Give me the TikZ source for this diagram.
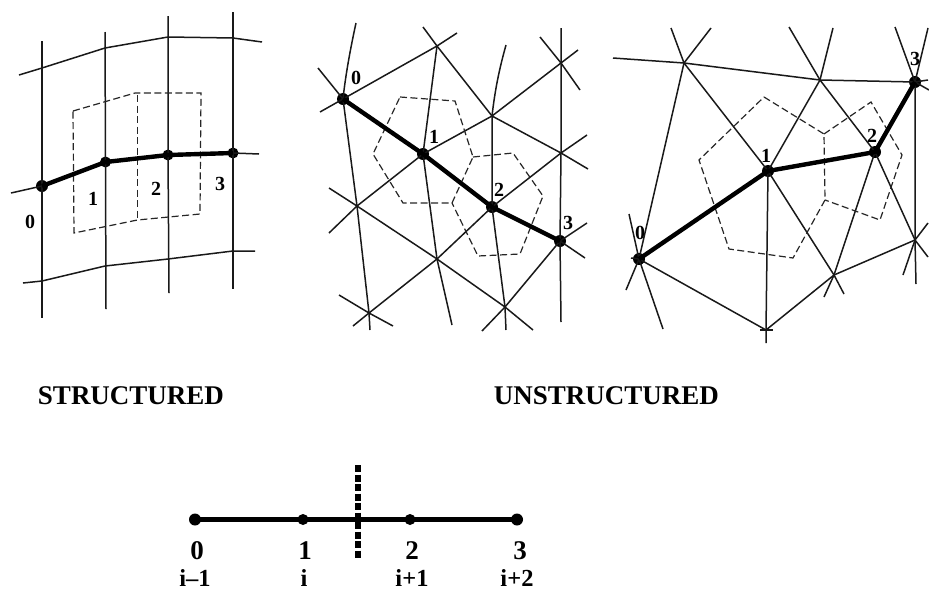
\documentclass[tikz,border=0pt]{standalone}
\usepackage{fontspec}
\setmainfont{Liberation Serif}
\tikzset{
  mesh/.style={line width=1.5pt,black!90},
  cell/.style={line width=1.2pt,black!85,dash pattern=on 7pt off 3.5pt},
  heavy/.style={line width=4.4pt,black},
  heavyaxis/.style={line width=5pt,black},
  cut/.style={line width=6.5pt,black,dash pattern=on 7pt off 2.5pt},
  dot/.style={circle,fill=black,inner sep=0pt,minimum size=#1},
  dot/.default=12pt,
  lab/.style={font=\fontsize{20}{20}\selectfont\bfseries,inner sep=0pt},
  title/.style={font=\fontsize{27}{27}\selectfont\bfseries,inner sep=0pt},
  axlab/.style={font=\fontsize{27}{27}\selectfont\bfseries,inner sep=0pt},
  axsub/.style={font=\fontsize{24.5}{24.5}\selectfont\bfseries,inner sep=0pt},
}
\begin{document}
\begin{tikzpicture}[x=1pt,y=-1pt]
\useasboundingbox (0,0) rectangle (929,592);
% ---------- structured
\foreach \n/\x/\y in {a1/42/41,a2/42/318,a3/105/32,a4/106/309,a5/168/16,a6/169/293,a7/233/12,a8/233/289,
  t0/19/75,t1/42/68,t2/105/48,t3/168/37,t4/233/38,t5/262/42,
  c0/11/193,c5/259/154,
  b0/23/283,b1/42/281,b2/105/266,b3/168/259,b4/233/251,b5/255/251,
  k1/73/111,k2/137.4/95,k3/135/93,k4/201/93,k5/200/214,k6/137.4/220,k7/74/233}
  {\coordinate (\n) at (\x,\y);}
\node[dot] (s0) at (42,186) {};
\node[dot,minimum size=11pt] (s1) at (105.5,162) {};
\node[dot,minimum size=11pt] (s2) at (168,155) {};
\node[dot,minimum size=11pt] (s3) at (233,153) {};
\draw[mesh] (a1) -- (s0.center) -- (a2);
\draw[mesh] (a3) -- (s1.center) -- (a4);
\draw[mesh] (a5) -- (s2.center) -- (a6);
\draw[mesh] (a7) -- (s3.center) -- (a8);
\draw[mesh] (t0) -- (t1) -- (t2) -- (t3) -- (t4) -- (t5);
\draw[mesh] (c0) -- (s0.center);
\draw[mesh] (s3.center) -- (c5);
\draw[mesh] (b0) -- (b1) -- (b2) -- (b3) -- (b4) -- (b5);
\draw[cell] (k1) -- (k3) -- (k4) -- (k5) -- (k6) -- (k7) -- cycle;
\draw[cell] (k2) -- (k6);
\draw[heavy] (s0.center) -- (s1.center) -- (s2.center) -- (s3.center);
\node[lab] (sl0) at (30,222) {0};
\node[lab] (sl1) at (93,199) {1};
\node[lab] (sl2) at (156,189) {2};
\node[lab] (sl3) at (220,184) {3};
% ---------- unstructured, hexagons
\foreach \n/\x/\y in {B/437/46,C/492/116,D/561/63,E/561/153,F/357/206,G/437/259,H/369/313,I/505/307,
  m1/356/23,m2/318/68,m3/320/112,m4/457/33,m5/423/27,m6/588/169,m7/452/325,m8/506/45,m9/506/330,m10/370/330,
  m11/540/37,m12/580/90,m13/578/50,m14/329/233,m15/561/28,m16/561/322,m17/587/135,m18/353/326,m19/329/188,
  m20/533/330,m21/339/295,m22/393/326,m23/587/223,m24/482/331,m25/585/258,
  h1/400/97,h2/455/101,h3/473/157,h4/452/203,h5/403/203,h6/373/154,
  h7/513/153,h8/543/196,h9/520/254,h10/478/256}
  {\coordinate (\n) at (\x,\y);}
\node[dot] (u0) at (343,99) {};
\node[dot] (u1) at (423,154) {};
\node[dot] (u2) at (492,207) {};
\node[dot] (u3) at (560,241) {};
\draw[mesh] (m1) .. controls (349,55) and (345,80) .. (u0.center) -- (F) -- (H) -- (m10);
\draw[mesh] (m2) -- (u0.center) -- (m3);
\draw[mesh] (u0.center) -- (B) -- (m4);
\draw[mesh] (m5) -- (B) -- (C) -- (E) -- (m6);
\draw[mesh] (B) -- (u1.center) -- (G) -- (m7);
\draw[mesh] (m8) .. controls (499,70) and (495,90) .. (C) -- (u2.center) -- (I) -- (m9);
\draw[mesh] (m11) -- (D) -- (m12);
\draw[mesh] (m13) -- (D) -- (C) -- (u1.center) -- (F) -- (m14);
\draw[mesh] (m15) -- (D) -- (E) -- (u3.center) -- (m16);
\draw[mesh] (m17) -- (E) -- (u2.center) -- (G) -- (H) -- (m18);
\draw[mesh] (m19) -- (F) -- (G) -- (I) -- (m20);
\draw[mesh] (m21) -- (H) -- (m22);
\draw[mesh] (m23) -- (u3.center) -- (I) -- (m24);
\draw[mesh] (u3.center) -- (m25);
\draw[cell] (h1) -- (h2) -- (h3) -- (h4) -- (h5) -- (h6) -- cycle;
\draw[cell] (h3) -- (h7) -- (h8) -- (h9) -- (h10) -- (h4);
\draw[heavy] (u0.center) -- (u1.center) -- (u2.center) -- (u3.center);
\node[lab] (ul0) at (356,78) {0};
\node[lab] (ul1) at (434,137) {1};
\node[lab] (ul2) at (499,190) {2};
\node[lab] (ul3) at (568,223) {3};
% ---------- unstructured, pentagons
\foreach \n/\x/\y in {Q/684/63,R/820/80,S/834/275,T/915/240,U/766/330,
  r1/613/58,r2/928/80,r3/671/28,r4/844/294,r5/711/28,r6/626/290,r7/789/27,r8/928/257,r9/833/28,r10/766/343,
  r11/895/27,r12/929/90,r13/928/28,r14/916/284,r15/629/214,r16/663/329,r17/928/223,r18/631/258,r19/824/297,
  r20/903/275,r21/760/330,r22/773/330,
  p1/764/97,p2/824/134,p3/825/200,p4/793/258,p5/729/249,p6/699/160,
  p7/871/102,p8/902/155,p9/880/220}
  {\coordinate (\n) at (\x,\y);}
\node[dot] (v0) at (639,259) {};
\node[dot] (v1) at (768,171) {};
\node[dot] (v2) at (875,152) {};
\node[dot] (v3) at (915,82) {};
\draw[mesh] (r1) -- (Q) -- (R) -- (v3.center) -- (r2);
\draw[mesh] (r3) -- (Q) -- (v1.center) -- (S) -- (r4);
\draw[mesh] (r5) -- (Q) -- (v0.center) -- (r6);
\draw[mesh] (r7) -- (R) -- (v2.center) -- (T) -- (r8);
\draw[mesh] (r9) -- (R) -- (v1.center) -- (U) -- (r10);
\draw[mesh] (r11) -- (v3.center) -- (r12);
\draw[mesh] (r13) -- (v3.center) -- (T) -- (r14);
\draw[mesh] (r15) -- (v0.center) -- (r16);
\draw[mesh] (r18) -- (v0.center) -- (U) -- (S) -- (T) -- (r17);
\draw[mesh] (v2.center) -- (S) -- (r19);
\draw[mesh] (T) -- (r20);
\draw[mesh] (r21) -- (r22);
\draw[cell] (p1) -- (p2) -- (p3) -- (p4) -- (p5) -- (p6) -- cycle;
\draw[cell] (p2) -- (p7) -- (p8) -- (p9) -- (p3);
\draw[heavy] (v0.center) -- (v1.center) -- (v2.center) -- (v3.center);
\node[lab] (vl0) at (640,233) {0};
\node[lab] (vl1) at (766,156) {1};
\node[lab] (vl2) at (872,136) {2};
\node[lab] (vl3) at (915,59) {3};
% ---------- titles
\node[title] (st) at (131,396) {STRUCTURED};
\node[title] (un) at (606.5,396) {UNSTRUCTURED};
% ---------- axis
\coordinate (cutT) at (358,465);
\coordinate (cutB) at (358,558);
\node[dot] (n0) at (195,519.5) {};
\node[dot,minimum size=11pt] (n1) at (303,519.5) {};
\node[dot,minimum size=11pt] (n2) at (410,519.5) {};
\node[dot] (n3) at (517,519.5) {};
\draw[heavyaxis] (n0.center) -- (n1.center) -- (n2.center) -- (n3.center);
\draw[cut] (cutT) -- (cutB);
\node[axlab] (x0) at (197,551) {0};
\node[axlab] (x1) at (305,551) {1};
\node[axlab] (x2) at (412,551) {2};
\node[axlab] (x3) at (520,551) {3};
\node[axsub] (y0) at (195,578) {i–1};
\node[axsub] (y1) at (304,578) {i};
\node[axsub] (y2) at (412,578) {i+1};
\node[axsub] (y3) at (517,578) {i+2};
\end{tikzpicture}
\end{document}
